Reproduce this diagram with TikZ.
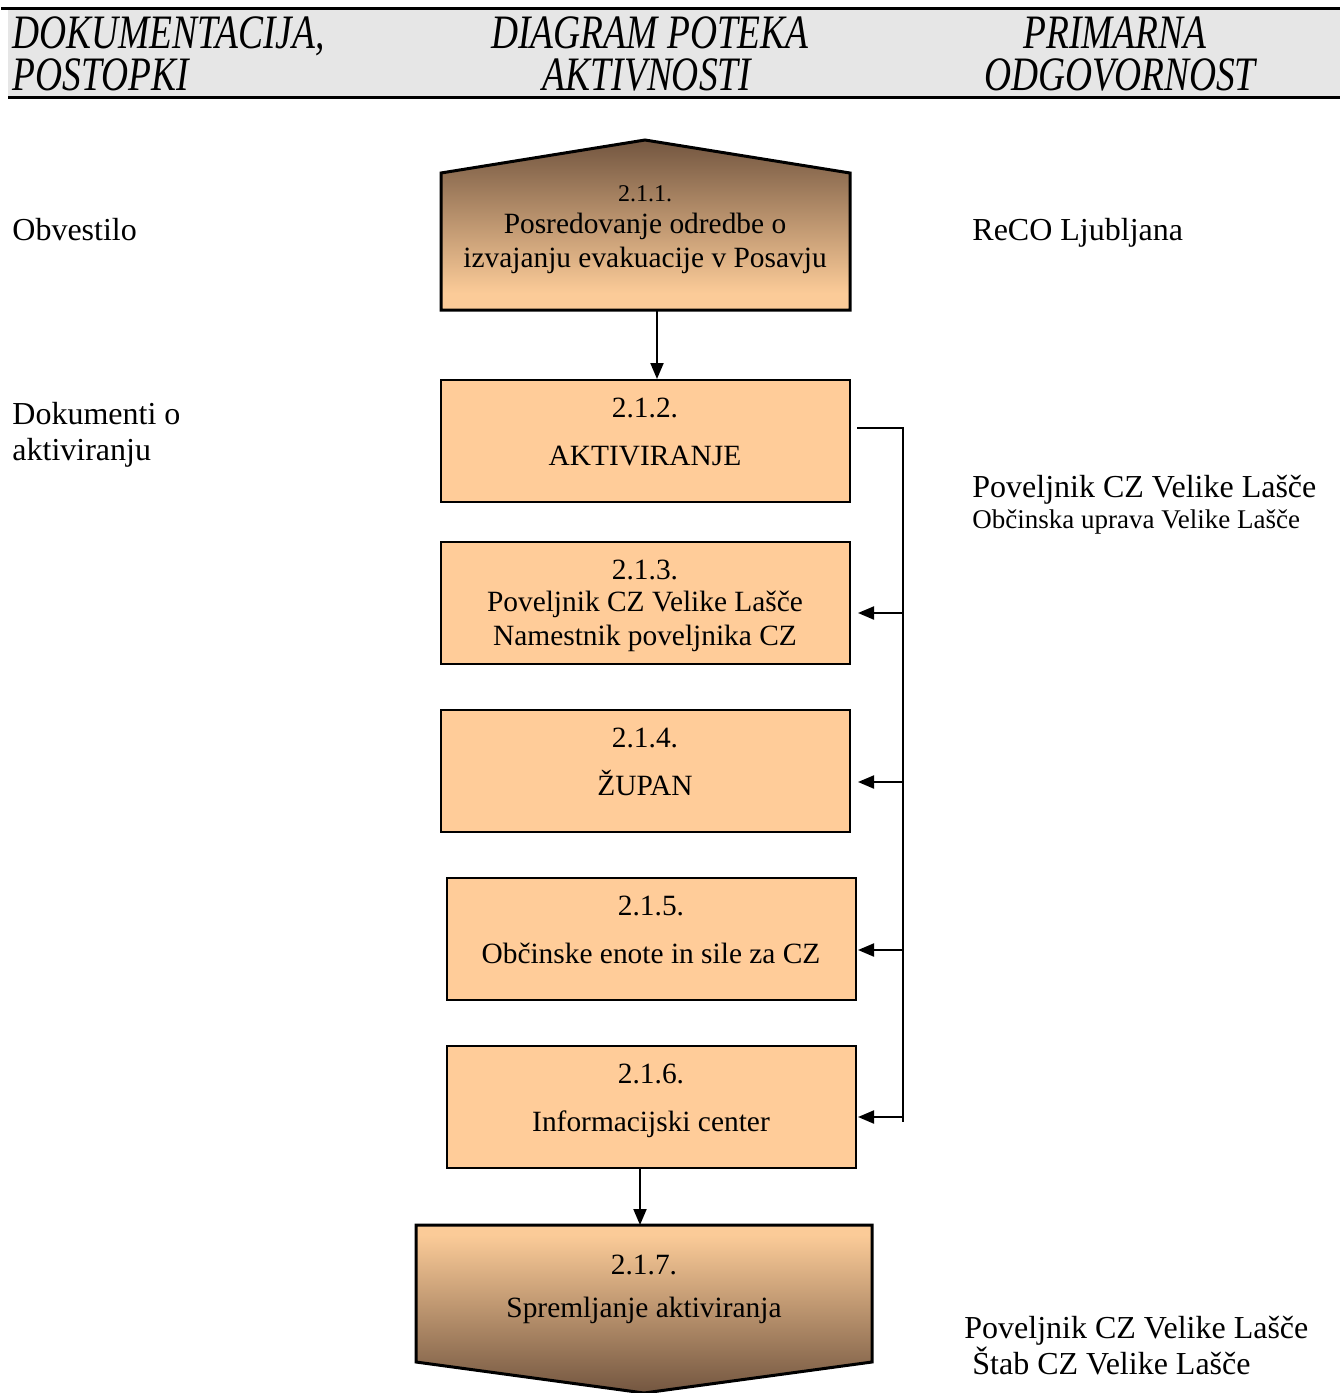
\documentclass[tikz,border=0pt]{standalone}
\usepackage{fontspec}
\setmainfont{Liberation Serif}
\newfontfamily\headfont[FakeStretch=0.78]{Liberation Serif}
\usetikzlibrary{arrows.meta}
\definecolor{headgray}{HTML}{E6E6E6}
\definecolor{boxorange}{HTML}{FFCC99}
\definecolor{lightorange}{HTML}{FBCB98}
\definecolor{darkbrown}{HTML}{735640}
\pgfdeclareverticalshading{roofshade}{100bp}{color(0bp)=(lightorange); color(30bp)=(lightorange); color(75bp)=(darkbrown); color(100bp)=(darkbrown)}
\pgfdeclareverticalshading{keelshade}{100bp}{color(0bp)=(darkbrown); color(25bp)=(darkbrown); color(72bp)=(lightorange); color(100bp)=(lightorange)}
\tikzset{
    box/.style={draw, line width=1pt, fill=boxorange, minimum width=204.5pt, minimum height=61pt, inner sep=0pt},
    boxtext/.style={font=\fontsize{14.7}{16}\selectfont, text height=10pt, text depth=3pt, inner sep=0pt},
    smalltext/.style={font=\fontsize{12}{14}\selectfont, text height=8pt, text depth=2.5pt, inner sep=0pt},
    sidetext/.style={anchor=west, inner sep=0pt, text height=11pt, text depth=3.5pt, font=\fontsize{16}{18}\selectfont},
    headtext/.style={inner sep=0pt, text height=16pt, text depth=0pt, font=\headfont\itshape\fontsize{24}{21}\selectfont},
    arr/.style={line width=1pt, -{Triangle[length=8pt,width=6.5pt]}},
}
\begin{document}
\begin{tikzpicture}[x=0.5pt, y=-0.5pt]
    \useasboundingbox (0, 0) rectangle (1340, 1393);
    % header
    \fill[headgray] (8, 8) rectangle (1340, 97);
    \draw[line width=1.5pt] (1, 8) -- (1340, 8);
    \draw[line width=1.5pt] (8, 97) -- (1340, 97);
    \node[headtext, anchor=west] (hdoca) at (12, 32) {DOKUMENTACIJA,};
    \node[headtext, anchor=west] (hdocb) at (12, 74) {POSTOPKI};
    \node[headtext] (hdiaga) at (650, 32) {DIAGRAM POTEKA};
    \node[headtext] (hdiagb) at (647, 74) {AKTIVNOSTI};
    \node[headtext] (hrespa) at (1115, 32) {PRIMARNA};
    \node[headtext] (hrespb) at (1120, 74) {ODGOVORNOST};

    % 2.1.1.
    \shade[shading=roofshade, draw, line width=1.5pt]
        (441, 310) -- (441, 173) -- (645, 140) -- (850, 173) -- (850, 310) -- cycle;
    \coordinate (b1) at (657, 310);
    \node[smalltext] (n1) at (645, 196) {2.1.1.};
    \node[boxtext] (t1a) at (645, 226) {Posredovanje odredbe o};
    \node[boxtext] (t1b) at (645, 260) {izvajanju evakuacije v Posavju};

    % 2.1.2. -- 2.1.6.
    \node[box] (b2) at (645.5, 441) {};
    \node[boxtext] (n2) at (645, 410) {2.1.2.};
    \node[boxtext] (t2) at (645, 458) {AKTIVIRANJE};

    \node[box] (b3) at (645.5, 603) {};
    \node[boxtext] (n3) at (645, 572) {2.1.3.};
    \node[boxtext] (t3a) at (645, 604) {Poveljnik CZ Velike Lašče};
    \node[boxtext] (t3b) at (645, 638) {Namestnik poveljnika CZ};

    \node[box] (b4) at (645.5, 771) {};
    \node[boxtext] (n4) at (645, 740) {2.1.4.};
    \node[boxtext] (t4) at (645, 788) {ŽUPAN};

    \node[box] (b5) at (651.5, 939) {};
    \node[boxtext] (n5) at (651, 908) {2.1.5.};
    \node[boxtext] (t5) at (651, 956) {Občinske enote in sile za CZ};

    \node[box] (b6) at (651.5, 1107) {};
    \node[boxtext] (n6) at (651, 1076) {2.1.6.};
    \node[boxtext] (t6) at (651, 1124) {Informacijski center};

    % 2.1.7.
    \shade[shading=keelshade, draw, line width=1.5pt]
        (416, 1225) -- (872, 1225) -- (872, 1362) -- (644, 1393) -- (416, 1362) -- cycle;
    \coordinate (b7) at (640, 1225);
    \node[boxtext] (n7) at (644, 1267) {2.1.7.};
    \node[boxtext] (t7) at (644, 1310) {Spremljanje aktiviranja};

    % connectors
    \draw[arr] (b1) -- (b1 |- b2.north);
    \draw[arr] (b7 |- b6.south) -- (b7);
    \coordinate (k2) at (903, 428);
    \coordinate (kend) at (903, 1122);
    \draw[line width=1pt] (857, 428) -- (k2) -- (kend);
    \coordinate (k3) at (903, 613);
    \coordinate (k4) at (903, 782);
    \coordinate (k5) at (903, 950);
    \coordinate (k6) at (903, 1117);
    \draw[arr, shorten >=3.5pt] (k3) -- (k3 -| b3.east);
    \draw[arr, shorten >=3.5pt] (k4) -- (k4 -| b4.east);
    \draw[arr, shorten >=0.5pt] (k5) -- (k5 -| b5.east);
    \draw[arr, shorten >=0.5pt] (k6) -- (k6 -| b6.east);

    % left column
    \node[sidetext] (obv) at (12, 233) {Obvestilo};
    \node[sidetext] (dok1) at (12, 417) {Dokumenti o};
    \node[sidetext] (dok2) at (12, 453) {aktiviranju};

    % right column
    \node[sidetext] (reco) at (972, 233) {ReCO Ljubljana};
    \node[sidetext] (pov1) at (972, 490) {Poveljnik CZ Velike Lašče};
    \node[smalltext, anchor=west, font=\fontsize{13.5}{15}\selectfont] (obc) at (972, 523) {Občinska uprava Velike Lašče};
    \node[sidetext] (pov2) at (964, 1331) {Poveljnik CZ Velike Lašče};
    \node[sidetext] (stab) at (972, 1367) {Štab CZ Velike Lašče};
\end{tikzpicture}
\end{document}
